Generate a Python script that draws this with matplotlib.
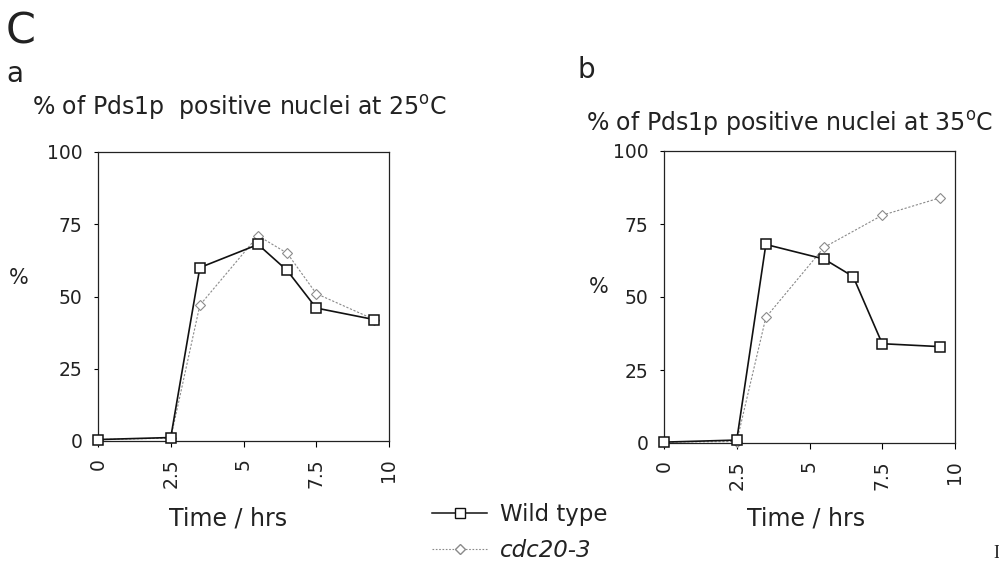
import matplotlib
matplotlib.use("Agg")
import matplotlib.pyplot as plt
from matplotlib.lines import Line2D

# time points (hrs)
time_points = [0, 2.5, 3.5, 5.5, 6.5, 7.5, 9.5]
time_cdc_35 = [0, 2.5, 3.5, 5.5, 7.5, 9.5]

# % of Pds1p positive nuclei
wt_25 = [0.5, 1.2, 60, 68, 59, 46, 42]
cdc_25 = [0.5, 1.0, 47, 71, 65, 51, 42]
wt_35 = [0.3, 1.0, 68, 63, 57, 34, 33]
cdc_35 = [0.3, 0.5, 43, 67, 78, 84]

x_ticks = [0, 2.5, 5, 7.5, 10]
x_tick_labels = ['0', '2.5', '5', '7.5', '10']
y_ticks = [0, 25, 50, 75, 100]
y_tick_labels = ['0', '25', '50', '75', '100']

plt.rcParams['font.family'] = ['DejaVu Sans']
TXT = '#222222'

W, H = 999, 564
fig = plt.figure(figsize=(W / 100, H / 100), dpi=100)


def px_axes(x0, y0, x1, y1):
    """Axes from pixel box (top-left origin)."""
    return fig.add_axes([x0 / W, 1 - y1 / H, (x1 - x0) / W, (y1 - y0) / H])


def style_axes(ax):
    ax.set_xlim(0, 10)
    ax.set_ylim(0, 100)
    ax.set_xticks(x_ticks)
    ax.set_xticklabels(x_tick_labels, rotation=90, fontsize=13.5, color=TXT)
    ax.set_yticks(y_ticks)
    ax.set_yticklabels(y_tick_labels, fontsize=13.5, color=TXT)
    ax.tick_params(axis='x', direction='out', length=4.5, width=0.8, pad=8)
    ax.tick_params(axis='y', direction='out', length=3, width=0.8, pad=8)
    for sp in ax.spines.values():
        sp.set_linewidth(0.9)
        sp.set_color(TXT)


def draw_series(ax, x_wt, y_wt, x_cdc, y_cdc):
    ax.plot(x_cdc, y_cdc, linestyle=(0, (2, 1.5)), color='#8a8a8a',
            linewidth=0.8, marker='D', markersize=5,
            markerfacecolor='white', markeredgecolor='#8a8a8a',
            markeredgewidth=0.8, clip_on=False, zorder=3)
    ax.plot(x_wt, y_wt, linestyle='-', color='#111111', linewidth=1.2,
            marker='s', markersize=7, markerfacecolor='white',
            markeredgecolor='#111111', markeredgewidth=1.1,
            clip_on=False, zorder=4)


# left panel (25 C)
ax1 = px_axes(98, 152, 389, 441)
style_axes(ax1)
draw_series(ax1, time_points, wt_25, time_points, cdc_25)

# right panel (35 C)
ax2 = px_axes(664, 151, 955, 443)
style_axes(ax2)
draw_series(ax2, time_points, wt_35, time_cdc_35, cdc_35)


def fig_text(x, y, s, **kw):
    fig.text(x / W, 1 - y / H, s, **kw)


fig_text(6, 31, 'C', fontsize=31, va='center', ha='left', color=TXT)
fig_text(6, 74, 'a', fontsize=20, va='center', ha='left', color=TXT)
fig_text(577, 70, 'b', fontsize=20, va='center', ha='left', color=TXT)

fig_text(32, 108, r'% of Pds1p  positive nuclei at 25$^{\rm o}$C',
         fontsize=17, va='center', ha='left', color=TXT)
fig_text(586, 124, r'% of Pds1p positive nuclei at 35$^{\rm o}$C',
         fontsize=17, va='center', ha='left', color=TXT)

fig_text(19, 278, '%', fontsize=15, va='center', ha='center', color=TXT)
fig_text(599, 287, '%', fontsize=15, va='center', ha='center', color=TXT)

fig_text(228, 519, 'Time / hrs', fontsize=17, va='center', ha='center',
         color=TXT)
fig_text(806, 519, 'Time / hrs', fontsize=17, va='center', ha='center',
         color=TXT)

# legend
handles = [
    Line2D([], [], linestyle='-', color='#111111', linewidth=1.1,
           marker='s', markersize=6.5, markerfacecolor='white',
           markeredgecolor='#111111'),
    Line2D([], [], linestyle=(0, (1.5, 1.5)), color='#8a8a8a',
           linewidth=0.8, marker='D', markersize=5,
           markerfacecolor='white', markeredgecolor='#8a8a8a'),
]
leg = fig.legend(handles, ['Wild type', 'cdc20-3'], loc='upper left',
                 bbox_to_anchor=(432 / W, 1 - 503 / H), frameon=False,
                 fontsize=16.5, handlelength=2.4, handletextpad=0.55,
                 labelspacing=0.55, borderaxespad=0, borderpad=0)
leg.get_texts()[1].set_style('italic')
for t in leg.get_texts():
    t.set_color(TXT)

fig_text(993, 553, 'I', fontsize=13, va='center', ha='left',
         family='Liberation Serif', color=TXT)

fig.savefig('out.png', dpi=100)
